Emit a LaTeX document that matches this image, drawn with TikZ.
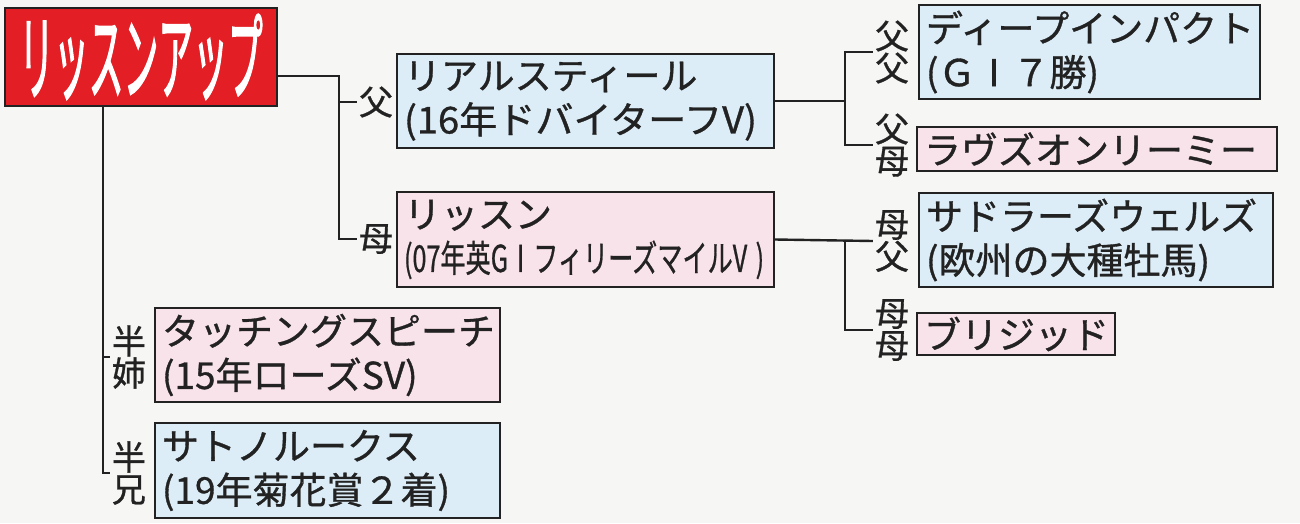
\documentclass[tikz,border=0pt]{standalone}
\usepackage{fontspec}
\setmainfont{Noto Sans CJK JP}
\newfontfamily\jpbody{Noto Sans CJK JP}[FakeBold=0.9]
\newfontfamily\jptitle{Noto Sans CJK JP}[FakeBold=2.5]
\usepackage{graphicx}
\definecolor{bluefill}{HTML}{DCEDF7}
\definecolor{pinkfill}{HTML}{F9E3EA}
\definecolor{rootred}{HTML}{E31E24}
\definecolor{paper}{HTML}{F6F6F4}
\definecolor{ink}{HTML}{222222}
\tikzset{
 box/.style={draw=ink, line width=2.4pt, inner xsep=7pt, inner ysep=0pt, align=left,
   font=\jpbody\fontsize{37}{44}\selectfont, text=ink},
 bluebox/.style={box, fill=bluefill},
 pinkbox/.style={box, fill=pinkfill},
 rootbox/.style={draw=ink, line width=2.4pt, fill=rootred, text=white, inner sep=0pt},
 rel/.style={inner sep=2pt, align=center, font=\jpbody\fontsize{34}{32}\selectfont, text=ink},
 conn/.style={draw=ink, line width=2.4pt},
}
\begin{document}
\begin{tikzpicture}[x=1pt,y=-1pt]
\useasboundingbox (0,0) rectangle (1300,523);
\fill[paper] (0,0) rectangle (1300,523);
% root
\node[rootbox, minimum width=272pt, minimum height=98pt] (root) at (141,57)
  {\scalebox{0.37}[1]{\jptitle\fontsize{94}{94}\selectfont リッスンアップ}};
% parents
\node[bluebox, minimum width=377pt, minimum height=94pt, text width=363pt] (fa) at (585.5,101)
  {リアルスティール\\\scalebox{1.03}[1]{(16年ドバイターフV)}};
\node[pinkbox, minimum width=377pt, minimum height=95pt, text width=363pt] (mo) at (585.5,239.5)
  {リッスン\\\scalebox{0.68}[1]{(07年英GⅠフィリーズマイルV )}};
% grandparents
\node[bluebox, minimum width=341pt, minimum height=94pt, text width=327pt] (ff) at (1089.5,52)
  {ディープインパクト\\(ＧⅠ７勝)};
\node[pinkbox, minimum width=360pt, minimum height=44pt, text width=346pt] (fm) at (1097,149)
  {ラヴズオンリーミー};
\node[bluebox, minimum width=354pt, minimum height=94pt, text width=340pt] (mf) at (1096,240)
  {サドラーズウェルズ\\(欧州の大種牡馬)};
\node[pinkbox, minimum width=198pt, minimum height=42pt, text width=184pt] (mm) at (1016,334)
  {ブリジッド};
% half siblings
\node[pinkbox, minimum width=345pt, minimum height=94pt, text width=331pt] (hs) at (327.5,355)
  {タッチングスピーチ\\(15年ローズSV)};
\node[bluebox, minimum width=345pt, minimum height=95pt, text width=331pt] (hb) at (327.5,470.5)
  {サトノルークス\\(19年菊花賞２着)};
% relation labels
\node[rel] (lfa) at (376,102) {父};
\node[rel] (lmo) at (376,239) {母};
\node[rel] (lff) at (892,52) {父\\父};
\node[rel] (lfm) at (892,145) {父\\母};
\node[rel] (lmf) at (892,241) {母\\父};
\node[rel] (lmm) at (892,330) {母\\母};
\node[rel] (lhs) at (129,357) {半\\姉};
\node[rel] (lhb) at (129,473) {半\\兄};
% junction coordinates
\coordinate (j1) at (339,0);
\coordinate (j2) at (845,0);
\coordinate (j3) at (103,0);
% connectors
\draw[conn] ([yshift=-19pt]root.east) -| (j1 |- lmo) -- (lmo.west);
\draw[conn] (j1 |- lfa) -- (lfa.west);
\draw[conn] (fa.east) -- (j2 |- fa.east);
\draw[conn] (lff.west) -| (j2 |- lfm) -- (lfm.west);
\draw[conn] (mo.east) -- (lmf.west);
\draw[conn] (j2 |- mo.east) |- (lmm.west);
\draw[conn] (root.south -| j3) |- (lhb.west);
\draw[conn] (j3 |- lhs) -- (lhs.west);
\end{tikzpicture}
\end{document}
